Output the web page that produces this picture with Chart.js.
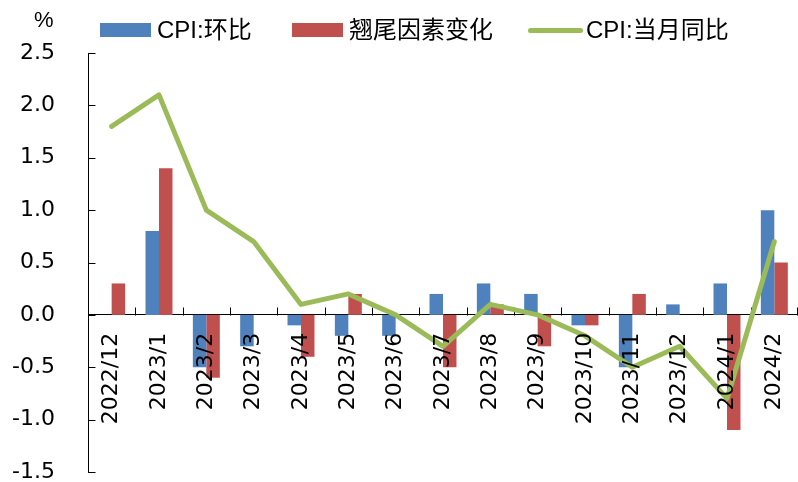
<!DOCTYPE html>
<html>
<head>
<meta charset="utf-8">
<script src="https://cdn.jsdelivr.net/npm/chart.js@4/dist/chart.umd.min.js"></script>
<style>
  body { margin: 0; background: #fff; }
  #wrap { position: relative; width: 798px; height: 482px; font-family: "Liberation Sans", Arial, "Noto Sans CJK SC", sans-serif; color: #000; }
  #wrap canvas { position: absolute; left: 0; top: 0; }
  .unit { position: absolute; left: 34px; top: 7px; font-size: 22px; }
  .lg-text { position: absolute; top: 16px; font-size: 24px; line-height: 28px; white-space: nowrap; }
  .lg-box { position: absolute; top: 23px; width: 51px; height: 14px; }
  .lg-line { position: absolute; top: 28px; width: 55px; height: 5px; border-radius: 3px; }
</style>
</head>
<body>
<div id="wrap">
  <canvas id="chart" width="798" height="482"></canvas>
  <div class="unit">%</div>
  <div class="lg-box" style="left:100px;background:#4F81BD"></div>
  <div class="lg-text" style="left:157px">CPI:环比</div>
  <div class="lg-box" style="left:292px;background:#C0504D"></div>
  <div class="lg-text" style="left:349px">翘尾因素变化</div>
  <div class="lg-line" style="left:528px;background:#9BBB59"></div>
  <div class="lg-text" style="left:586px">CPI:当月同比</div>
</div>
<script>
// Data
const MONTHS = ['2022/12', '2023/1', '2023/2', '2023/3', '2023/4', '2023/5', '2023/6', '2023/7',
                '2023/8', '2023/9', '2023/10', '2023/11', '2023/12', '2024/1', '2024/2'];
const CPI_MOM = [0.0, 0.8, -0.5, -0.3, -0.1, -0.2, -0.2, 0.2, 0.3, 0.2, -0.1, -0.5, 0.1, 0.3, 1.0];
const CARRYOVER = [0.3, 1.4, -0.6, 0.0, -0.4, 0.2, 0.0, -0.5, 0.1, -0.3, -0.1, 0.2, 0.0, -1.1, 0.5];
const CPI_YOY = [1.8, 2.1, 1.0, 0.7, 0.1, 0.2, 0.0, -0.3, 0.1, 0.0, -0.2, -0.5, -0.3, -0.8, 0.7];
const Y_MIN = -1.5, Y_MAX = 2.5, Y_STEP = 0.5;

const TICK_FONT = '"DejaVu Sans", "Liberation Sans", sans-serif';

/** Small inward tick marks, like the original office chart */
const innerTicks = {
  id: 'innerTicks',
  beforeDatasetsDraw(chart) {
    const { ctx, scales: { x, y } } = chart;
    const zeroY = Math.round(y.getPixelForValue(0)) + 0.5;
    const left = Math.round(chart.chartArea.left) + 0.5;
    const step = (chart.chartArea.right - chart.chartArea.left) / MONTHS.length;
    ctx.save();
    ctx.strokeStyle = '#000';
    ctx.lineWidth = 1;
    ctx.beginPath();
    // y ticks pointing right
    for (let v = Y_MIN; v <= Y_MAX + 1e-9; v += Y_STEP) {
      const py = Math.round(y.getPixelForValue(v)) + 0.5;
      ctx.moveTo(left, py);
      ctx.lineTo(left + 7, py);
    }
    // x ticks at category boundaries pointing up
    for (let i = 1; i <= MONTHS.length; i++) {
      const bx = Math.min(Math.round(x.getPixelForValue(i - 1) + step / 2) + 0.5, Math.round(chart.chartArea.right) - 0.5);
      ctx.moveTo(bx, zeroY);
      ctx.lineTo(bx, zeroY - 8);
    }
    ctx.stroke();
    ctx.restore();
  }
};

const noPad = s => { s.paddingLeft = 0; s.paddingRight = 0; s.paddingTop = 0; s.paddingBottom = 0; };

new Chart(document.getElementById('chart'), {
  data: {
    labels: MONTHS,
    datasets: [
      {
        type: 'line', label: 'CPI:当月同比', data: CPI_YOY, order: 0,
        borderColor: '#9BBB59', borderWidth: 5, pointRadius: 0, tension: 0,
        borderCapStyle: 'round', borderJoinStyle: 'round'
      },
      {
        type: 'bar', label: 'CPI:环比', data: CPI_MOM, order: 1,
        backgroundColor: '#4F81BD', categoryPercentage: 0.57, barPercentage: 1.0
      },
      {
        type: 'bar', label: '翘尾因素变化', data: CARRYOVER, order: 2,
        backgroundColor: '#C0504D', categoryPercentage: 0.57, barPercentage: 1.0
      }
    ]
  },
  options: {
    responsive: false,
    animation: false,
    layout: { padding: { top: 53, bottom: 10, left: 0, right: 0 } },
    plugins: { legend: { display: false }, tooltip: { enabled: false } },
    scales: {
      x: {
        type: 'category',
        position: { y: 0 },
        offset: true,
        grid: { display: false, drawTicks: false },
        border: { display: true, color: '#000', width: 1 },
        ticks: {
          z: 1,   // labels sit on top of the bars, as in the original
          autoSkip: false, minRotation: 90, maxRotation: 90, padding: 18,
          color: '#000', font: { family: TICK_FONT, size: 22 }
        },
        afterFit: s => { s.height = 0; noPad(s); }
      },
      y: {
        min: Y_MIN, max: Y_MAX,
        grid: { display: false, drawTicks: false },
        border: { display: true, color: '#000', width: 1 },
        ticks: {
          stepSize: Y_STEP, padding: 33, color: '#000',
          font: { family: TICK_FONT, size: 22 },
          callback: v => Number(v).toFixed(1)
        },
        afterFit: s => { s.width = 88; noPad(s); }
      }
    }
  },
  plugins: [innerTicks]
});
</script>
</body>
</html>
